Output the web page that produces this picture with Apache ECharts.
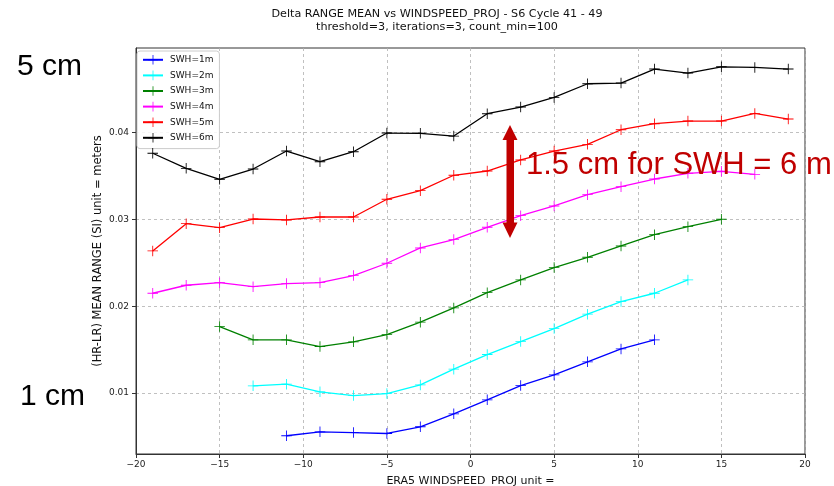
<!DOCTYPE html>
<html>
<head>
<meta charset="utf-8">
<script src="https://cdn.jsdelivr.net/npm/echarts@6/dist/echarts.min.js"></script>
<style>
  html, body { margin: 0; padding: 0; background: #ffffff; }
  #chart { width: 834px; height: 486px; }
</style>
</head>
<body>
<div id="chart"></div>
<script>
// Wind-speed bin centres (m/s)
const windspeed = [-19, -17, -15, -13, -11, -9, -7, -5, -3, -1, 1, 3, 5, 7, 9, 11, 13, 15, 17, 19];

// Mean range difference (HR-LR), metres, per significant wave height class
const swh1m = [null, null, null, null, 0.0051, 0.00555, 0.00547, 0.00536, 0.00613, 0.00762, 0.00923, 0.01087, 0.0121, 0.0136, 0.01509, 0.01613, null, null, null, null];
const swh2m = [null, null, null, 0.01084, 0.01103, 0.01015, 0.00972, 0.00995, 0.01095, 0.01276, 0.01444, 0.01593, 0.01743, 0.01908, 0.02053, 0.02149, 0.02302, null, null, null];
const swh3m = [null, null, 0.01766, 0.01613, 0.01613, 0.01536, 0.0159, 0.01674, 0.01816, 0.0198, 0.02156, 0.02302, 0.02444, 0.02563, 0.02693, 0.02823, 0.02915, 0.03, null, null];
const swh4m = [0.02149, 0.02241, 0.02271, 0.02225, 0.0226, 0.02271, 0.02352, 0.02494, 0.0267, 0.02766, 0.02908, 0.03041, 0.03153, 0.03283, 0.03375, 0.03463, 0.03529, 0.03552, 0.03517, null];
const swh5m = [0.02636, 0.02949, 0.02903, 0.03003, 0.02992, 0.03026, 0.03026, 0.0323, 0.03329, 0.03506, 0.03555, 0.03682, 0.03785, 0.03862, 0.0403, 0.04099, 0.0413, 0.0413, 0.04218, 0.04153];
const swh6m = [0.03759, 0.03586, 0.0346, 0.03578, 0.03785, 0.03662, 0.03777, 0.03992, 0.03989, 0.03957, 0.04214, 0.04291, 0.04402, 0.04559, 0.04567, 0.04728, 0.04682, 0.04754, 0.04747, 0.04728];

const seriesNames = ['SWH=1m', 'SWH=2m', 'SWH=3m', 'SWH=4m', 'SWH=5m', 'SWH=6m'];
const seriesValues = [swh1m, swh2m, swh3m, swh4m, swh5m, swh6m];
const seriesColors = ['#0000ff', '#00ffff', '#008000', '#ff00ff', '#ff0000', '#000000'];

// Axis ticks
const xTicks = [-20, -15, -10, -5, 0, 5, 10, 15, 20];
const yTicks = [0.01, 0.02, 0.03, 0.04];

const plusSymbol = 'path://M-0.08,-1 L0.08,-1 L0.08,-0.08 L1,-0.08 L1,0.08 L0.08,0.08 L0.08,1 L-0.08,1 L-0.08,0.08 L-1,0.08 L-1,-0.08 L-0.08,-0.08 Z';
const mplFont = 'DejaVu Sans';

const chart = echarts.init(document.getElementById('chart'), null, { renderer: 'canvas' });

const series = seriesNames.map((name, i) => ({
  name: name,
  type: 'line',
  data: windspeed.map((x, j) => [x, seriesValues[i][j]]),
  symbol: plusSymbol,
  symbolSize: 10.5,
  showAllSymbol: true,
  connectNulls: false,
  color: seriesColors[i],
  lineStyle: { color: seriesColors[i], width: 1.3 },
  itemStyle: { color: seriesColors[i], borderWidth: 0 },
  emphasis: { disabled: true },
  z: 2 + i,
  animation: false
}));

chart.setOption({
  animation: false,
  backgroundColor: '#ffffff',
  title: {
    text: 'Delta RANGE MEAN vs WINDSPEED_PROJ - S6 Cycle 41 - 49',
    subtext: 'threshold=3, iterations=3, count_min=100',
    left: 432,
    top: 4,
    textAlign: 'center',
    itemGap: 2,
    textStyle: { fontFamily: mplFont, fontSize: 11.2, fontWeight: 'normal', color: '#111111' },
    subtextStyle: { fontFamily: mplFont, fontSize: 11.2, color: '#111111' }
  },
  grid: {
    left: 136, right: 29, top: 48, bottom: 32,
    outerBoundsMode: 'none',
    containLabel: false,
    show: true, borderColor: '#333333', borderWidth: 1, backgroundColor: 'transparent'
  },
  legend: {
    orient: 'vertical',
    left: 137,
    top: 51,
    padding: [4, 6, 6, 5],
    itemWidth: 20,
    itemHeight: 12,
    itemGap: 6,
    backgroundColor: 'rgba(255,255,255,0.85)',
    borderColor: '#cccccc',
    borderWidth: 1,
    borderRadius: 3,
    data: seriesNames,
    textStyle: { fontFamily: mplFont, fontSize: 9, color: '#111111', padding: [0, 0, 0, 2] }
  },
  xAxis: {
    type: 'value',
    min: xTicks[0],
    max: xTicks[xTicks.length - 1],
    interval: 5,
    name: 'ERA5 WINDSPEED_PROJ unit =',
    nameLocation: 'middle',
    nameGap: 22,
    nameMoveOverlap: false,
    nameTextStyle: { fontFamily: mplFont, fontSize: 11, color: '#111111', verticalAlign: 'top' },
    axisLine: { onZero: false, lineStyle: { color: '#333333', width: 1 } },
    axisTick: { show: true, inside: false, length: 4, lineStyle: { color: '#333333' } },
    axisLabel: {
      fontFamily: mplFont, fontSize: 9, color: '#222222', margin: 6,
      formatter: v => String(v).replace('-', '\u2212')
    },
    splitLine: { show: true, lineStyle: { color: '#b0b0b0', type: [3, 3], width: 0.8 } }
  },
  yAxis: {
    type: 'value',
    min: 0.003,
    max: 0.0497,
    name: '(HR-LR) MEAN RANGE (SI) unit = meters',
    nameLocation: 'middle',
    nameGap: 32,
    nameMoveOverlap: false,
    nameRotate: 90,
    nameTextStyle: { fontFamily: mplFont, fontSize: 11.5, color: '#111111' },
    axisLine: { onZero: false, lineStyle: { color: '#333333', width: 1 } },
    axisTick: { show: true, inside: false, length: 4, customValues: yTicks, lineStyle: { color: '#333333' } },
    axisLabel: {
      fontFamily: mplFont, fontSize: 9, color: '#222222', margin: 7,
      customValues: yTicks,
      formatter: v => v.toFixed(2)
    },
    splitLine: { show: true, lineStyle: { color: '#b0b0b0', type: [3, 3], width: 0.8 } }
  },
  series: series,
  graphic: [
    {
      type: 'text', left: 17, top: 52, z: 100,
      style: { text: '5 cm', font: '30px "Liberation Sans"', fill: '#000000' }
    },
    {
      type: 'text', left: 20, top: 382, z: 100,
      style: { text: '1 cm', font: '30px "Liberation Sans"', fill: '#000000' }
    },
    {
      type: 'text', left: 526, top: 150, z: 100,
      style: { text: '1.5 cm for SWH = 6 m', font: '31px "Liberation Sans"', fill: '#c00000' }
    },
    {
      type: 'polygon', z: 100,
      shape: { points: [[510, 125], [517.5, 140], [514, 140], [514, 222.5], [517.5, 222.5], [510, 238], [502.5, 222.5], [506.5, 222.5], [506.5, 140], [502.5, 140]] },
      style: { fill: '#c00000' }
    }
  ]
});
</script>
</body>
</html>
